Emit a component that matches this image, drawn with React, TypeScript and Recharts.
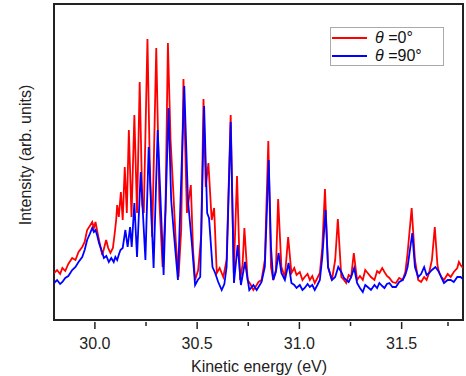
import { LineChart, Line, XAxis, YAxis, ReferenceArea, Label } from 'recharts';

// θ = 0° spectrum (red)
const redEnergy = [
    29.8, 29.815, 29.83, 29.841, 29.855, 29.87, 29.889, 29.905, 29.92, 29.938, 29.95, 29.962, 29.975, 29.987, 29.995,
    30.003, 30.012, 30.02, 30.036, 30.045, 30.055, 30.065, 30.076, 30.088, 30.097, 30.104, 30.109, 30.117, 30.127,
    30.136, 30.146, 30.156, 30.166, 30.179, 30.193, 30.206, 30.219, 30.232, 30.239, 30.257, 30.268, 30.28, 30.3,
    30.315, 30.331, 30.345, 30.357, 30.37, 30.383, 30.395, 30.409, 30.422, 30.433, 30.45, 30.469, 30.48, 30.49,
    30.505, 30.52, 30.531, 30.542, 30.555, 30.571, 30.583, 30.596, 30.61, 30.628, 30.644, 30.664, 30.679, 30.695,
    30.71, 30.722, 30.731, 30.747, 30.76, 30.775, 30.791, 30.8, 30.815, 30.831, 30.848, 30.861, 30.872, 30.885,
    30.896, 30.912, 30.929, 30.945, 30.961, 30.975, 30.986, 31.002, 31.015, 31.026, 31.04, 31.051, 31.063, 31.075,
    31.088, 31.1, 31.112, 31.125, 31.14, 31.159, 31.175, 31.188, 31.205, 31.218, 31.229, 31.241, 31.253, 31.266,
    31.282, 31.296, 31.31, 31.322, 31.334, 31.35, 31.367, 31.38, 31.391, 31.405, 31.416, 31.428, 31.44, 31.455,
    31.472, 31.488, 31.505, 31.518, 31.529, 31.549, 31.565, 31.581, 31.595, 31.61, 31.622, 31.634, 31.648, 31.662,
    31.675, 31.683, 31.695, 31.707, 31.725, 31.74, 31.755, 31.772, 31.78, 31.788, 31.8,
];
const redIntensity = [
    47, 50, 46, 52, 49, 56, 62, 60, 68, 73, 78, 90, 94, 98, 92,
    98, 88, 80, 65, 72, 80, 72, 67, 72, 87, 100, 115, 103, 128,
    100, 153, 107, 190, 103, 205, 107, 238, 115, 107, 281, 160, 83, 272,
    120, 53, 110, 277, 180, 130, 80, 43, 90, 241, 107, 135, 70, 40,
    50, 85, 221, 133, 157, 100, 112, 47, 52, 43, 60, 205, 47, 144,
    40, 55, 92, 40, 36, 30, 35, 38, 40, 60, 179, 53, 40, 50,
    121, 53, 43, 83, 47, 52, 45, 48, 40, 43, 46, 40, 44, 37,
    42, 47, 73, 131, 53, 40, 60, 101, 43, 40, 37, 45, 43, 67,
    40, 44, 40, 50, 47, 43, 40, 49, 47, 52, 48, 44, 42, 38,
    37, 42, 40, 48, 67, 112, 60, 40, 38, 43, 40, 47, 60, 93,
    55, 47, 43, 40, 46, 43, 48, 52, 58, 55, 52,
];

// θ = 90° spectrum (blue)
const blueEnergy = [
    29.8, 29.815, 29.83, 29.841, 29.855, 29.87, 29.889, 29.905, 29.92, 29.938, 29.95, 29.962, 29.975, 29.987, 29.995,
    30.003, 30.012, 30.02, 30.032, 30.044, 30.056, 30.068, 30.08, 30.092, 30.1, 30.109, 30.118, 30.125, 30.136,
    30.149, 30.16, 30.172, 30.18, 30.193, 30.206, 30.224, 30.247, 30.263, 30.287, 30.307, 30.336, 30.36, 30.373,
    30.386, 30.406, 30.437, 30.455, 30.474, 30.49, 30.503, 30.515, 30.534, 30.549, 30.558, 30.575, 30.588, 30.603,
    30.62, 30.633, 30.644, 30.664, 30.68, 30.698, 30.714, 30.734, 30.755, 30.775, 30.791, 30.8, 30.815, 30.831,
    30.85, 30.861, 30.872, 30.885, 30.898, 30.912, 30.929, 30.947, 30.961, 30.975, 30.986, 31.002, 31.015, 31.026,
    31.04, 31.051, 31.063, 31.075, 31.088, 31.1, 31.112, 31.128, 31.14, 31.159, 31.175, 31.19, 31.205, 31.218,
    31.229, 31.241, 31.253, 31.268, 31.282, 31.296, 31.31, 31.322, 31.334, 31.35, 31.367, 31.38, 31.391, 31.405,
    31.416, 31.428, 31.44, 31.455, 31.472, 31.488, 31.505, 31.518, 31.529, 31.552, 31.565, 31.581, 31.595, 31.61,
    31.622, 31.634, 31.648, 31.665, 31.683, 31.695, 31.707, 31.725, 31.74, 31.755, 31.772, 31.788, 31.8,
];
const blueIntensity = [
    37, 40, 36, 38, 42, 44, 50, 53, 58, 63, 70, 80, 86, 92, 88,
    90, 84, 77, 70, 62, 64, 58, 62, 58, 63, 60, 66, 70, 72,
    90, 73, 93, 73, 117, 63, 148, 60, 173, 52, 190, 45, 212, 120,
    87, 40, 234, 120, 77, 35, 40, 43, 214, 107, 102, 53, 47, 38,
    30, 36, 53, 198, 37, 75, 35, 58, 30, 35, 30, 33, 38, 53,
    160, 73, 40, 48, 67, 47, 40, 57, 37, 35, 32, 35, 30, 32,
    36, 33, 35, 30, 35, 40, 63, 110, 53, 40, 43, 53, 48, 42,
    40, 38, 43, 52, 37, 32, 28, 35, 33, 30, 35, 32, 37, 34,
    32, 36, 37, 33, 33, 38, 40, 45, 53, 87, 53, 43, 46, 53,
    45, 47, 50, 53, 48, 42, 37, 40, 40, 38, 43, 43, 41,
];

const energyTicks = [30, 30.25, 30.5, 30.75, 31, 31.25, 31.5, 31.75];

const FONT = '"Liberation Sans", Arial, sans-serif';

const redData = redEnergy.map((e, i) => ({ energy: e, intensity: redIntensity[i] }));
const blueData = blueEnergy.map((e, i) => ({ energy: e, intensity: blueIntensity[i] }));

function EnergyTick({ x, y, payload }: any) {
    const major = Math.abs(payload.value * 2 - Math.round(payload.value * 2)) < 1e-6;
    return (
        <g>
            <line x1={x} x2={x} y1={y} y2={y + (major ? 7 : 4)} stroke="#222" strokeWidth={1.5} />
            {major && (
                <text x={x} y={y + 27} textAnchor="middle" fontSize={16} fontFamily={FONT} fill="#222">
                    {payload.value.toFixed(1)}
                </text>
            )}
        </g>
    );
}

function ThetaLegend() {
    const row = (color: string, deg: string) => (
        <div style={{ display: 'flex', alignItems: 'center', height: 18 }}>
            <div style={{ width: 35, height: 2, background: color, marginRight: 8 }} />
            <span style={{ fontSize: 16, fontFamily: FONT, color: '#111' }}>
                <i>θ</i> ={deg}°
            </span>
        </div>
    );
    return (
        <div
            style={{
                position: 'absolute', left: 330, top: 27, width: 114, height: 39,
                border: '1px solid #aaa', background: '#fff', padding: '1px 0 0 1px', boxSizing: 'border-box',
            }}
        >
            {row('#ff0000', '0')}
            {row('#0000ff', '90')}
        </div>
    );
}

export default function App() {
    return (
        <div style={{ position: 'absolute', left: 0, top: 0, width: 466, height: 376, background: '#fff' }}>
            <LineChart width={466} height={376} margin={{ top: 4, right: 3, left: 0, bottom: 6 }}>
                <XAxis
                    type="number"
                    dataKey="energy"
                    domain={[29.8, 31.8]}
                    ticks={energyTicks}
                    allowDataOverflow
                    height={50}
                    tickSize={0}
                    tickLine={false}
                    axisLine={false}
                    tick={<EnergyTick />}
                >
                    <Label
                        content={() => (
                            <text x={259} y={372} textAnchor="middle" fontSize={16} fontFamily={FONT} fill="#222">
                                Kinetic energy (eV)
                            </text>
                        )}
                    />
                </XAxis>
                <YAxis
                    type="number"
                    domain={[0, 316]}
                    allowDataOverflow
                    width={54}
                    tick={false}
                    tickLine={false}
                    axisLine={false}
                >
                    <Label
                        content={() => (
                            <text x={31} y={155} transform="rotate(-90, 31, 155)" textAnchor="middle" fontSize={16} fontFamily={FONT} fill="#222">
                                Intensity (arb. units)
                            </text>
                        )}
                    />
                </YAxis>
                <Line data={redData} dataKey="intensity" name="θ =0°" type="linear" stroke="#ff0000" strokeWidth={1.8} dot={false} isAnimationActive={false} />
                <Line data={blueData} dataKey="intensity" name="θ =90°" type="linear" stroke="#0000ff" strokeWidth={1.8} dot={false} isAnimationActive={false} />
                <ReferenceArea x1={29.8} x2={31.8} y1={0} y2={316} fill="none" stroke="#222" strokeWidth={2} ifOverflow="extendDomain" />
            </LineChart>
            <ThetaLegend />
        </div>
    );
}
